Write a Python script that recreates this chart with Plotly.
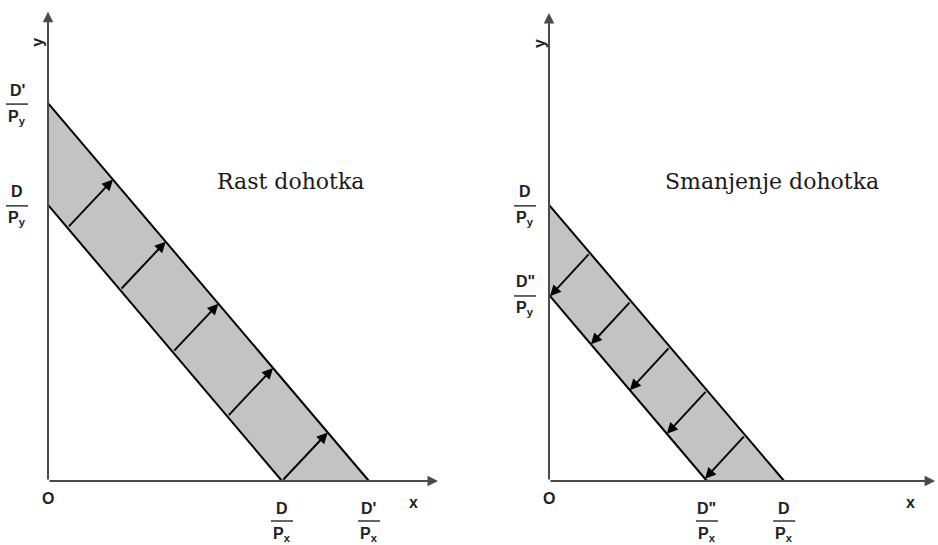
import plotly.graph_objects as go

# ---------------- data (budget-line intercepts, in arbitrary quantity units) -------------
# Left panel: "Rast dohotka" (income increase)
left_lower = {"x": 6.0, "y": 7.08}      # D/Px , D/Py
left_upper = {"x": 8.23, "y": 9.69}     # D'/Px, D'/Py
left_arrow_start_x = [0.5, 1.85, 3.2, 4.6, 6.0]     # arrow starts on the lower line
left_arrow_dir = (1.13, 1.20)
left_axis_end = (10.0, 12.03)

# Right panel: "Smanjenje dohotka" (income decrease)
right_upper = {"x": 6.03, "y": 7.08}    # D/Px , D/Py
right_lower = {"x": 4.05, "y": 4.77}    # D''/Px, D''/Py
right_arrow_start_x = [1.05, 2.10, 3.10, 4.05, 5.03]  # arrow starts on the upper line
right_arrow_dir = (-0.97, -1.05)
right_axis_end = (9.9, 12.0)

titles = ["Rast dohotka", "Smanjenje dohotka"]
title_pos = [(6.21, 7.67), (5.71, 7.67)]

left_x_labels = ["D", "D'"]
left_y_labels = ["D'", "D"]
right_x_labels = ['D"', "D"]
right_y_labels = ["D", 'D"']

# ---------------- layout helpers ----------------
W, H = 938, 545
PPU = 39.0            # pixels per unit
ORIG_Y = 481          # pixel row of the x-axis
LEFT_ORIG_X = 48
RIGHT_ORIG_X = 549
SPLIT = 469

FILL = "#c3c3c3"
AXIS_COL = "#4a4a4a"
LBL_FONT = dict(family="Liberation Sans, Arial, sans-serif", size=16, color="#222222",
                weight="bold")
TITLE_FONT = dict(family="DejaVu Serif, Liberation Serif, serif", size=22, color="#1a1a1a")

fig = go.Figure()
annotations = []
shapes = []


def line_y(p, x):
    return p["y"] * (1 - x / p["x"])


def hit(p, bx, by, d):
    t = (1 - bx / p["x"] - by / p["y"]) / (d[0] / p["x"] + d[1] / p["y"])
    return bx + t * d[0], by + t * d[1]


def panel(xr, yr, outer, inner, start_line, end_line, starts, d, axis_end,
          xlabels, ylabels, ylab_shift, title, tpos):
    # shaded band
    fig.add_trace(go.Scatter(
        x=[0, outer["x"], inner["x"], 0, 0],
        y=[outer["y"], 0, 0, inner["y"], outer["y"]],
        fill="toself", fillcolor=FILL, mode="none",
        xaxis=xr, yaxis=yr, hoverinfo="skip", showlegend=False))
    # budget lines
    for p in (outer, inner):
        fig.add_trace(go.Scatter(
            x=[0, p["x"]], y=[p["y"], 0], mode="lines",
            line=dict(color="black", width=2),
            xaxis=xr, yaxis=yr, hoverinfo="skip", showlegend=False))
    # shift arrows
    for bx in starts:
        by = line_y(start_line, bx)
        tx, ty = hit(end_line, bx, by, d)
        annotations.append(dict(
            x=tx, y=ty, ax=bx, ay=by, xref=xr, yref=yr, axref=xr, ayref=yr,
            showarrow=True, arrowhead=2, arrowsize=1.15, arrowwidth=1.9,
            arrowcolor="black", standoff=0, text=""))
    # axes
    annotations.append(dict(x=axis_end[0], y=0, ax=0, ay=0, xref=xr, yref=yr,
                            axref=xr, ayref=yr, showarrow=True, arrowhead=2,
                            arrowsize=1.05, arrowwidth=2, arrowcolor=AXIS_COL, text=""))
    annotations.append(dict(x=0, y=axis_end[1], ax=0, ay=0, xref=xr, yref=yr,
                            axref=xr, ayref=yr, showarrow=True, arrowhead=2,
                            arrowsize=1.05, arrowwidth=2, arrowcolor=AXIS_COL, text=""))
    # axis letters
    annotations.append(dict(x=0, y=0, xref=xr, yref=yr, text="O", showarrow=False,
                            yshift=-17, font=LBL_FONT))
    annotations.append(dict(x=axis_end[0], y=0, xref=xr, yref=yr, text="x",
                            showarrow=False, xshift=-25, yshift=-21, font=LBL_FONT))
    annotations.append(dict(x=0, y=axis_end[1], xref=xr, yref=yr, text="y",
                            showarrow=False, xshift=-10, yshift=-31, textangle=-90,
                            font=LBL_FONT))
    # x-intercept fractions
    xvals = sorted([inner["x"], outer["x"]])
    for v, num in zip(xvals, xlabels):
        annotations.append(dict(x=v, y=0, xref=xr, yref=yr, text=num, showarrow=False,
                                yshift=-27, font=LBL_FONT))
        annotations.append(dict(x=v, y=0, xref=xr, yref=yr, text="P<sub>x</sub>",
                                showarrow=False, yshift=-53, font=LBL_FONT))
        shapes.append(dict(type="line", xref=xr, yref=yr, xsizemode="pixel",
                           ysizemode="pixel", xanchor=v, yanchor=0,
                           x0=-11, x1=11, y0=-40, y1=-40,
                           line=dict(color="#333333", width=1.5)))
    # y-intercept fractions
    yvals = sorted([inner["y"], outer["y"]], reverse=True)
    for v, num in zip(yvals, ylabels):
        annotations.append(dict(x=0, y=v, xref=xr, yref=yr, text=num, showarrow=False,
                                xshift=ylab_shift, yshift=13, font=LBL_FONT))
        annotations.append(dict(x=0, y=v, xref=xr, yref=yr, text="P<sub>y</sub>",
                                showarrow=False, xshift=ylab_shift, yshift=-14,
                                font=LBL_FONT))
        shapes.append(dict(type="line", xref=xr, yref=yr, xsizemode="pixel",
                           ysizemode="pixel", xanchor=0, yanchor=v,
                           x0=ylab_shift - 11, x1=ylab_shift + 11, y0=-1, y1=-1,
                           line=dict(color="#333333", width=1.5)))
    # caption
    annotations.append(dict(x=tpos[0], y=tpos[1], xref=xr, yref=yr, text=title,
                            showarrow=False, font=TITLE_FONT))


panel("x", "y", left_upper, left_lower, left_lower, left_upper,
      left_arrow_start_x, left_arrow_dir, left_axis_end,
      left_x_labels, left_y_labels, -31, titles[0], title_pos[0])
panel("x2", "y2", right_upper, right_lower, right_upper, right_lower,
      right_arrow_start_x, right_arrow_dir, right_axis_end,
      right_x_labels, right_y_labels, -24, titles[1], title_pos[1])

yrange = [-(H - ORIG_Y) / PPU, ORIG_Y / PPU]
fig.update_layout(
    width=W, height=H, margin=dict(l=0, r=0, t=0, b=0),
    paper_bgcolor="white", plot_bgcolor="white", showlegend=False,
    xaxis=dict(domain=[0, SPLIT / W], range=[-LEFT_ORIG_X / PPU, (SPLIT - LEFT_ORIG_X) / PPU],
               visible=False, fixedrange=True),
    yaxis=dict(domain=[0, 1], range=yrange, visible=False, fixedrange=True),
    xaxis2=dict(domain=[SPLIT / W, 1],
                range=[-(RIGHT_ORIG_X - SPLIT) / PPU, (W - RIGHT_ORIG_X) / PPU],
                visible=False, fixedrange=True),
    yaxis2=dict(domain=[0, 1], range=yrange, anchor="x2", visible=False, fixedrange=True),
    annotations=annotations, shapes=shapes,
)

fig.write_html("out.html", config={"displayModeBar": False},
               post_script="document.body.style.margin='0';document.body.style.overflow='hidden';")
